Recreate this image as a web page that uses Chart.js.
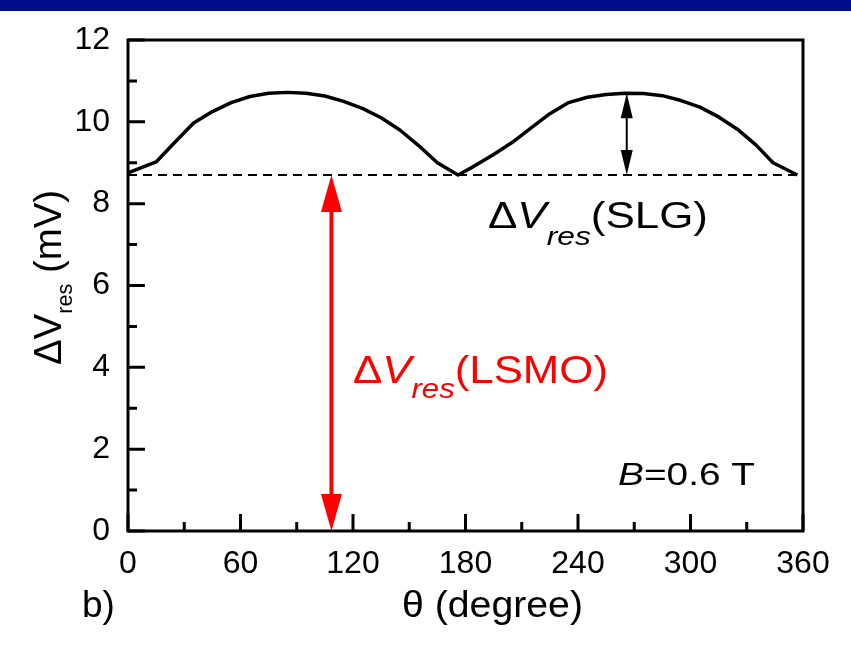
<!DOCTYPE html>
<html>
<head>
<meta charset="utf-8">
<script src="https://cdn.jsdelivr.net/npm/chart.js@4/dist/chart.umd.min.js"></script>
<style>
  html, body { margin: 0; padding: 0; background: #ffffff; }
  #wrap { position: relative; width: 851px; height: 658px; overflow: hidden; }
  #topbar { position: absolute; left: 0; top: 0; width: 851px; height: 11px; background: #000d8a; }
  canvas { position: absolute; left: 0; top: 0; }
</style>
</head>
<body>
<div id="wrap">
  <canvas id="c" width="851" height="658"></canvas>
  <div id="topbar"></div>
</div>
<script>
// Rotation angle (degree) and resonance voltage step ΔV_res (mV)
const angleDeg = [0, 15, 25, 35, 45, 55, 65, 75, 85, 95, 105, 115, 125, 135, 145, 155, 165, 176,
                  184, 195, 205, 215, 225, 235, 245, 255, 265, 275, 285, 295, 305, 315, 325, 335, 344, 357];
const dVres = [8.75, 9.02, 9.50, 9.97, 10.25, 10.47, 10.62, 10.70, 10.72, 10.70, 10.63, 10.50, 10.33, 10.10, 9.80, 9.42, 9.00, 8.70,
               8.90, 9.20, 9.50, 9.85, 10.20, 10.47, 10.60, 10.67, 10.70, 10.69, 10.64, 10.52, 10.36, 10.12, 9.82, 9.43, 9.00, 8.70];

// LSMO background level (dashed line)
const baseAngle = [0, 357];
const baseLevel = [8.7, 8.7];

// Tick labels
const xTickLabels = [0, 60, 120, 180, 240, 300, 360];
const yTickLabels = [0, 2, 4, 6, 8, 10, 12];

// Double-headed arrows: [angle, from, to]
const arrowSLG = [266, 8.7, 10.7];
const arrowLSMO = [108.5, 0, 8.7];

const FONT = '"Liberation Sans", Arial, sans-serif';

function drawParts(ctx, parts, x, y, targetWidth) {
  let w = 0;
  for (const p of parts) {
    ctx.font = (p.italic ? 'italic ' : '') + p.size + 'px ' + FONT;
    w += ctx.measureText(p.text).width;
  }
  const sx = targetWidth ? targetWidth / w : 1;
  ctx.save();
  ctx.translate(x, y);
  ctx.scale(sx, 1);
  ctx.textBaseline = 'alphabetic';
  ctx.textAlign = 'left';
  let cx = 0;
  for (const p of parts) {
    ctx.font = (p.italic ? 'italic ' : '') + p.size + 'px ' + FONT;
    ctx.fillText(p.text, cx, p.dy || 0);
    cx += ctx.measureText(p.text).width;
  }
  ctx.restore();
}

function arrowHead(ctx, x, y, dir, len, half) {
  ctx.beginPath();
  ctx.moveTo(x, y);
  ctx.lineTo(x - half, y + dir * len);
  ctx.lineTo(x + half, y + dir * len);
  ctx.closePath();
  ctx.fill();
}

function doubleArrow(ctx, xs, ys, a, color, lw, len, half) {
  const x = xs.getPixelForValue(a[0]);
  const yb = ys.getPixelForValue(a[1]);
  const yt = ys.getPixelForValue(a[2]);
  ctx.save();
  ctx.strokeStyle = color;
  ctx.fillStyle = color;
  ctx.lineWidth = lw;
  ctx.beginPath();
  ctx.moveTo(x, yt + len - 2);
  ctx.lineTo(x, yb - len + 2);
  ctx.stroke();
  arrowHead(ctx, x, yt, 1, len, half);
  arrowHead(ctx, x, yb, -1, len, half);
  ctx.restore();
}

const decor = {
  id: 'decor',
  afterDatasetsDraw(chart) {
    const ctx = chart.ctx;
    const area = chart.chartArea;
    const xs = chart.scales.x, ys = chart.scales.y;

    // inward tick marks (long on labelled values)
    ctx.save();
    ctx.strokeStyle = '#000';
    ctx.lineWidth = 3;
    ctx.beginPath();
    xs.ticks.forEach(t => {
      const px = xs.getPixelForValue(t.value);
      const len = xTickLabels.includes(t.value) ? 17 : 9;
      ctx.moveTo(px, area.bottom);
      ctx.lineTo(px, area.bottom - len);
    });
    ys.ticks.forEach(t => {
      const py = ys.getPixelForValue(t.value);
      const len = yTickLabels.includes(t.value) ? 17 : 9;
      ctx.moveTo(area.left, py);
      ctx.lineTo(area.left + len, py);
    });
    ctx.stroke();

    // frame
    ctx.lineWidth = 3;
    ctx.strokeRect(area.left, area.top, area.right - area.left, area.bottom - area.top);
    ctx.restore();

    // arrows
    doubleArrow(ctx, xs, ys, arrowSLG, '#000000', 2, 25, 6);
    doubleArrow(ctx, xs, ys, arrowLSMO, '#ff0000', 4, 37, 10.5);

    // annotations
    ctx.save();
    ctx.fillStyle = '#000000';
    drawParts(ctx, [
      { text: 'Δ', size: 36 },
      { text: 'V', size: 36, italic: true },
      { text: 'res', size: 26, italic: true, dy: 17 },
      { text: '(SLG)', size: 36 }
    ], 488, 228, 220);

    drawParts(ctx, [
      { text: 'B', size: 31, italic: true },
      { text: '=0.6 T', size: 31 }
    ], 618, 485, 137);

    ctx.fillStyle = '#ff0000';
    drawParts(ctx, [
      { text: 'Δ', size: 38 },
      { text: 'V', size: 38, italic: true },
      { text: 'res', size: 27, italic: true, dy: 15 },
      { text: '(LSMO)', size: 38 }
    ], 353, 383, 255);

    // axis titles
    ctx.fillStyle = '#000000';
    drawParts(ctx, [{ text: 'θ (degree)', size: 37 }], 402, 617, 181);
    drawParts(ctx, [{ text: 'b)', size: 37 }], 82, 617);

    ctx.save();
    ctx.translate(61, 365);
    ctx.rotate(-Math.PI / 2);
    drawParts(ctx, [
      { text: 'ΔV', size: 39 },
      { text: 'res', size: 22, dy: 11 },
      { text: ' (mV)', size: 39 }
    ], 0, 0, 175);
    ctx.restore();
    ctx.restore();
  }
};

new Chart(document.getElementById('c'), {
  type: 'scatter',
  data: {
    datasets: [
      {
        data: angleDeg.map((a, i) => ({ x: a, y: dVres[i] })),
        showLine: true,
        borderColor: '#000000',
        borderWidth: 3.5,
        pointRadius: 0,
        tension: 0,
        borderJoinStyle: 'round'
      },
      {
        data: baseAngle.map((a, i) => ({ x: a, y: baseLevel[i] })),
        showLine: true,
        borderColor: '#000000',
        borderWidth: 2,
        borderDash: [9, 6],
        pointRadius: 0
      }
    ]
  },
  options: {
    responsive: false,
    animation: false,
    devicePixelRatio: 1,
    layout: { padding: { left: 0, top: 40, right: 48, bottom: 0 } },
    plugins: { legend: { display: false }, tooltip: { enabled: false } },
    scales: {
      x: {
        type: 'linear',
        min: 0, max: 360,
        grid: { display: false },
        border: { display: false },
        ticks: {
          stepSize: 30,
          autoSkip: false,
          maxRotation: 0,
          padding: 6,
          color: '#000000',
          font: { family: FONT, size: 32 },
          callback: v => xTickLabels.includes(v) ? String(v) : ''
        },
        afterFit: s => { s.height = 127; }
      },
      y: {
        min: 0, max: 12,
        grid: { display: false },
        border: { display: false },
        ticks: {
          stepSize: 1,
          autoSkip: false,
          padding: 10,
          color: '#000000',
          font: { family: FONT, size: 32 },
          callback: v => yTickLabels.includes(v) ? String(v) : ''
        },
        afterFit: s => { s.width = 128; }
      }
    }
  },
  plugins: [decor]
});
</script>
</body>
</html>
